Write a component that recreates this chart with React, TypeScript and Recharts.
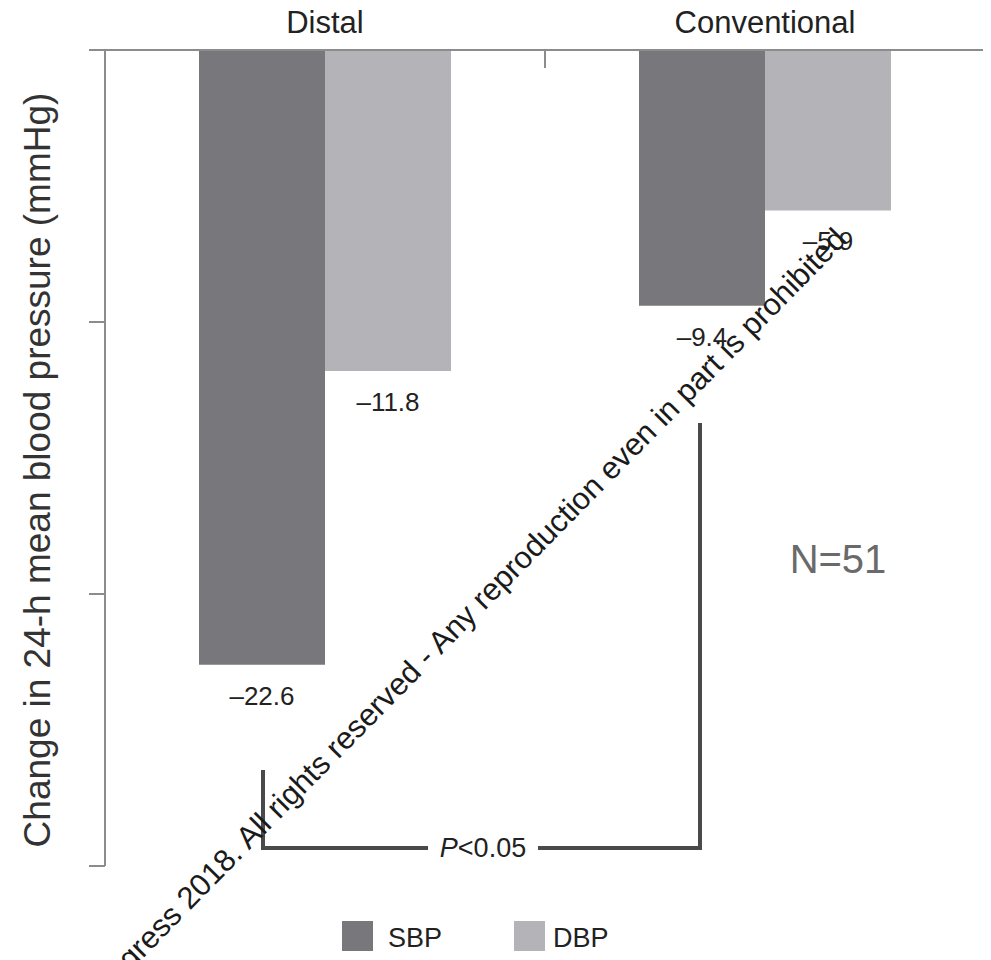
import React from 'react';
import { BarChart, Bar, XAxis, YAxis, LabelList } from 'recharts';

const categories = ['Distal', 'Conventional'];
const sbpValues = [-22.6, -9.4];
const dbpValues = [-11.8, -5.9];
const yTicks = [0, -10, -20, -30];
const seriesNames = ['SBP', 'DBP'];

const data = categories.map((group, i) => ({
  group,
  SBP: sbpValues[i],
  DBP: dbpValues[i],
}));

const FONT = '"Liberation Sans", Arial, sans-serif';
const AXIS = '#8c8c8c';
const SBP_FILL = '#78777b';
const DBP_FILL = '#b4b3b7';

const W = 991;
const H = 960;
// plot area
const LEFT = 105;
const RIGHT = 985;
const TOP = 50;
const BOTTOM = 866;
const BAND = (RIGHT - LEFT) / categories.length;

const fmt = (v: number) => `\u2013${Math.abs(v).toFixed(1)}`;

// value printed under the end of each (negative) bar
const ValueLabel = (props: any) => {
  const { x, y, width, height, value } = props;
  const bottom = Math.max(y, y + height);
  return (
    <text x={x + width / 2} y={bottom + 40} textAnchor="middle" fontSize={26} fill="#222" fontFamily={FONT}>
      {fmt(value)}
    </text>
  );
};

// group name above the top axis
const TopTick = (props: any) => {
  const { x, y, payload } = props;
  return (
    <text x={x} y={y - 17} textAnchor="middle" fontSize={31} fill="#222" fontFamily={FONT}>
      {payload.value}
    </text>
  );
};

const NoTick = () => <g />;

const App: React.FC = () => {
  return (
    <div style={{ position: 'relative', width: W, height: H, marginLeft: -8, marginTop: -8 }}>
      <BarChart
        width={W}
        height={H}
        data={data}
        margin={{ top: TOP - 30, right: W - RIGHT, bottom: H - BOTTOM, left: LEFT - 60 }}
        barSize={126}
        barGap={0}
      >
        <XAxis
          dataKey="group"
          orientation="top"
          height={30}
          interval={0}
          axisLine={{ stroke: AXIS, strokeWidth: 2 }}
          tickLine={false}
          tickSize={0}
          tickMargin={0}
          tick={<TopTick />}
        />
        <YAxis
          type="number"
          domain={[-30, 0]}
          ticks={yTicks}
          width={60}
          tick={<NoTick />}
          tickSize={16}
          axisLine={{ stroke: AXIS, strokeWidth: 2 }}
          tickLine={{ stroke: AXIS, strokeWidth: 2 }}
        />
        <Bar dataKey="SBP" fill={SBP_FILL} isAnimationActive={false}>
          <LabelList dataKey="SBP" content={<ValueLabel />} />
        </Bar>
        <Bar dataKey="DBP" fill={DBP_FILL} isAnimationActive={false}>
          <LabelList dataKey="DBP" content={<ValueLabel />} />
        </Bar>
      </BarChart>

      <svg
        width={W}
        height={H}
        style={{ position: 'absolute', left: 0, top: 0, pointerEvents: 'none' }}
        fontFamily={FONT}
      >
        {/* group separators on the top axis */}
        {categories.map((c, i) => (
          <line
            key={c}
            x1={LEFT + BAND * (i + 1)}
            x2={LEFT + BAND * (i + 1)}
            y1={TOP}
            y2={TOP + 18}
            stroke={AXIS}
            strokeWidth={2}
          />
        ))}

        <text
          x={37}
          y={470}
          transform="rotate(-90 37 470)"
          textAnchor="middle"
          dominantBaseline="central"
          fontSize={37}
          fill="#333"
        >
          Change in 24-h mean blood pressure (mmHg)
        </text>

        {/* significance bracket between the two SBP bars */}
        <path d="M263 770 V848 H428 M538 848 H700 V423" fill="none" stroke="#4a4a4a" strokeWidth={4} />
        <text x={483} y={848} textAnchor="middle" dominantBaseline="central" fontSize={27} fill="#222">
          <tspan fontStyle="italic">P</tspan>&lt;0.05
        </text>

        <text x={838} y={573} textAnchor="middle" fontSize={40} fill="#6a6a6a">
          N=51
        </text>

        {/* legend */}
        <rect x={342} y={921} width={31} height={30} fill={SBP_FILL} />
        <text x={388} y={947} fontSize={27} fill="#222">{seriesNames[0]}</text>
        <rect x={514} y={921} width={31} height={30} fill={DBP_FILL} />
        <text x={553} y={947} fontSize={27} fill="#222">{seriesNames[1]}</text>

        <text
          x={848}
          y={241}
          transform="rotate(-45.5 848 241)"
          textAnchor="end"
          fontSize={31}
          fill="#1a1a1a"
        >
          ESH Congress 2018. All rights reserved - Any reproduction even in part is prohibited
        </text>
      </svg>
    </div>
  );
};

export default App;
